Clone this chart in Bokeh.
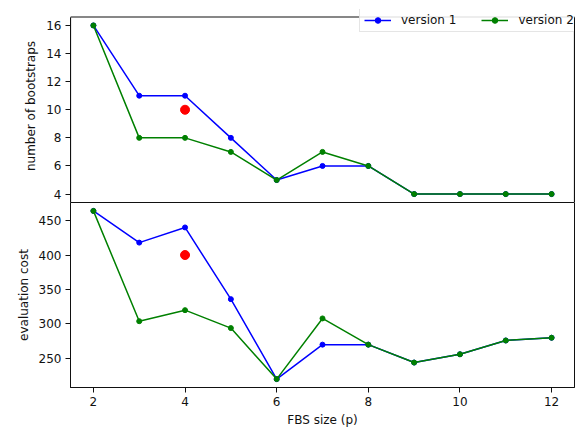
from bokeh.plotting import figure
from bokeh.models import Range1d, FixedTicker, Legend, LegendItem, BoxAnnotation, LinearAxis
from bokeh.layouts import column
from bokeh.embed import file_html
from bokeh.resources import INLINE

# ---- data ----
fbs_size = [2, 3, 4, 5, 6, 7, 8, 9, 10, 11, 12]
boot_v1 = [16, 11, 11, 8, 5, 6, 6, 4, 4, 4, 4]
boot_v2 = [16, 8, 8, 7, 5, 7, 6, 4, 4, 4, 4]
cost_v1 = [464, 418, 440, 336, 220, 270, 270, 244, 256, 276, 280]
cost_v2 = [464, 304, 320, 294, 220, 308, 270, 244, 256, 276, 280]
ref_x = [4]
ref_boot = [10]
ref_cost = [400]
x_ticks = [2, 4, 6, 8, 10, 12]
boot_ticks = [4, 6, 8, 10, 12, 14, 16]
cost_ticks = [250, 300, 350, 400, 450]

BLUE = "#0000ff"
GREEN = "#008000"
RED = "#ff0000"
FONT = "DejaVu Sans"
AX = "#111111"

# axis limits (matplotlib-like 5% margins)
X0, X1 = 1.5, 12.5
B0, B1 = 3.4, 16.6
C0, C1 = 207.8, 476.2

# layout in pixels
FRAME_L = 70
FRAME_H = 185
EXTRA_TOP = 7.5     # room above the top axes for the legend (half pixel: crisp border)
px_per_b = FRAME_H / (B1 - B0)


def style(p):
    p.xgrid.visible = False
    p.ygrid.visible = False
    p.outline_line_color = AX
    p.outline_line_width = 1
    p.background_fill_color = "white"
    p.border_fill_color = "white"
    for ax in p.axis:
        ax.axis_line_color = AX
        ax.major_tick_line_color = AX
        ax.minor_tick_line_color = None
        ax.major_tick_in = 0
        ax.major_tick_out = 5
        ax.major_label_standoff = 4
        ax.axis_label_standoff = 5
        ax.major_label_text_font = FONT
        ax.major_label_text_font_size = "12px"
        ax.major_label_text_color = "#111111"
        ax.axis_label_text_font = FONT
        ax.axis_label_text_font_size = "12px"
        ax.axis_label_text_font_style = "normal"
        ax.axis_label_text_color = "#111111"


# ---------- top panel ----------
top = figure(width=580, height=17 + FRAME_H,
             x_range=Range1d(X0, X1),
             y_range=Range1d(B0, B1 + EXTRA_TOP / px_per_b),
             x_axis_location=None, output_backend="svg", toolbar_location=None,
             min_border_left=FRAME_L, min_border_right=6,
             min_border_top=9, min_border_bottom=0)
top.yaxis.axis_label = "number of bootstraps"
top.yaxis.ticker = FixedTicker(ticks=boot_ticks)
top_right = LinearAxis(ticker=FixedTicker(ticks=[]), major_label_text_font_size="0px")
top.add_layout(top_right, "right")
style(top)
top_right.major_tick_out = 0
top_right.major_label_standoff = 0
top_right.axis_label_standoff = 0
top.outline_line_color = None
top.yaxis.bounds = (B0, B1)
top.add_layout(BoxAnnotation(left=X0, right=X1, top=B1, bottom=B0,
                             fill_alpha=0, fill_color=None,
                             line_color=AX, line_alpha=1, line_width=1.2))

l1 = top.line(fbs_size, boot_v1, line_color=BLUE, line_width=1.5)
s1 = top.scatter(fbs_size, boot_v1, color=BLUE, size=5)
l2 = top.line(fbs_size, boot_v2, line_color=GREEN, line_width=1.5)
s2 = top.scatter(fbs_size, boot_v2, color=GREEN, size=5)
top.scatter(ref_x, ref_boot, color=RED, size=9)

legend = Legend(items=[LegendItem(label="version 1", renderers=[l1, s1]),
                       LegendItem(label="version 2", renderers=[l2, s2])],
                location=(289, FRAME_H + 8 - 23), orientation="horizontal",
                padding=4, margin=0, spacing=25, glyph_width=27, glyph_height=14,
                label_height=14, label_standoff=10,
                label_text_font=FONT, label_text_font_size="12px", label_text_color="#111111",
                border_line_color="#cccccc", background_fill_alpha=0.85)
top.add_layout(legend, "center")

# ---------- bottom panel ----------
bottom = figure(width=580, height=232, x_range=Range1d(X0, X1), y_range=Range1d(C0, C1),
                output_backend="svg", toolbar_location=None,
                min_border_left=FRAME_L, min_border_right=6,
                min_border_top=0, min_border_bottom=232 - FRAME_H)
bottom.yaxis.axis_label = "evaluation cost"
bottom.xaxis.axis_label = "FBS size (p)"
bottom.yaxis.ticker = FixedTicker(ticks=cost_ticks)
bottom.xaxis.ticker = FixedTicker(ticks=x_ticks)
style(bottom)
bottom.xaxis.axis_label_standoff = 4

bottom.line(fbs_size, cost_v1, line_color=BLUE, line_width=1.5)
bottom.scatter(fbs_size, cost_v1, color=BLUE, size=5)
bottom.line(fbs_size, cost_v2, line_color=GREEN, line_width=1.5)
bottom.scatter(fbs_size, cost_v2, color=GREEN, size=5)
bottom.scatter(ref_x, ref_cost, color=RED, size=9)

layout = column(top, bottom, spacing=0)
open("out.html", "w").write(file_html(layout, INLINE))
